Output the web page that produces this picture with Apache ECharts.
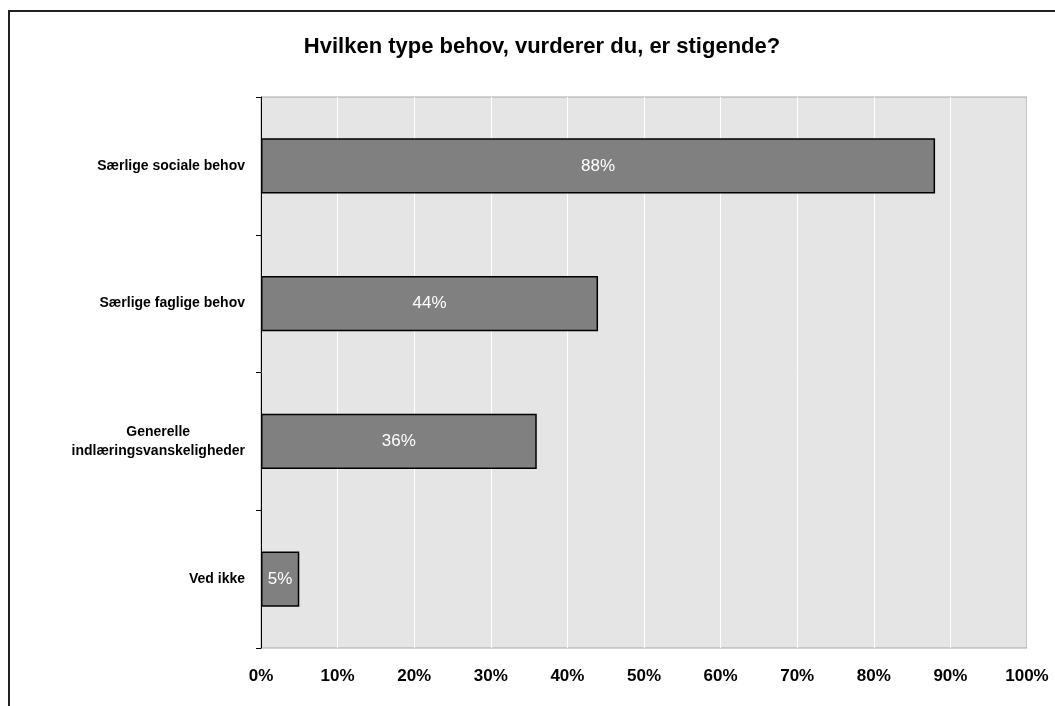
<!DOCTYPE html>
<html>
<head>
<meta charset="utf-8">
<script src="https://cdn.jsdelivr.net/npm/echarts@6/dist/echarts.min.js"></script>
<style>
  html, body { margin: 0; padding: 0; background: #fff; }
  #chart { width: 1055px; height: 706px; }
</style>
</head>
<body>
<div id="chart"></div>
<script>
"use strict";

const titleText = "Hvilken type behov, vurderer du, er stigende?";
const categories = [
  "Særlige sociale behov",
  "Særlige faglige behov",
  "Generelle\nindlæringsvanskeligheder",
  "Ved ikke",
];
const values = [0.88, 0.44, 0.36, 0.05];

const FONT = "Liberation Sans, Arial, sans-serif";

const chart = echarts.init(document.getElementById("chart"));

// multi-line labels get centered lines (Excel style)
const catLabel = (v) =>
  v.split("\n").map((line) => `{c|${line}}`).join("\n");

chart.setOption({
  backgroundColor: "#fff",
  animation: false,
  title: {
    text: titleText,
    left: 537,
    top: 31,
    textAlign: "center",
    textStyle: { fontFamily: FONT, fontSize: 22, fontWeight: "bold", color: "#000" },
  },
  graphic: [
    {
      type: "rect",
      shape: { x: 9, y: 11, width: 1100, height: 800 },
      style: { fill: "none", stroke: "#222", lineWidth: 2 },
      silent: true,
    },
  ],
  grid: {
    left: 261,
    top: 97,
    right: 28,
    bottom: 58,
    show: true,
    backgroundColor: "#e5e5e5",
    borderColor: "#a6a6a6",
    borderWidth: 1,
  },
  xAxis: {
    type: "value",
    min: 0,
    max: 1,
    interval: 0.1,
    axisLine: { show: false },
    axisTick: { show: false },
    splitLine: { show: true, lineStyle: { color: "#fff", width: 1 } },
    axisLabel: {
      margin: 20,
      fontFamily: FONT,
      fontSize: 17,
      fontWeight: "bold",
      color: "#000",
      formatter: (v) => Math.round(v * 100) + "%",
    },
  },
  yAxis: {
    type: "category",
    inverse: true,
    data: categories,
    axisLine: { show: true, lineStyle: { color: "#000", width: 1 } },
    axisTick: { show: true, length: 5, inside: false, lineStyle: { color: "#000" } },
    axisLabel: {
      margin: 16,
      fontFamily: FONT,
      fontSize: 14,
      fontWeight: "bold",
      color: "#000",
      lineHeight: 19,
      formatter: catLabel,
      rich: {
        c: { align: "center", fontFamily: FONT, fontSize: 14, fontWeight: "bold", color: "#000", lineHeight: 19 },
      },
    },
  },
  series: [
    {
      type: "bar",
      data: values,
      barWidth: "40%",
      itemStyle: { color: "#808080", borderColor: "#000", borderWidth: 1.5 },
      label: {
        show: true,
        position: "inside",
        fontFamily: FONT,
        fontSize: 17,
        color: "#fff",
        formatter: (p) => Math.round(p.value * 100) + "%",
      },
    },
  ],
});
</script>
</body>
</html>
